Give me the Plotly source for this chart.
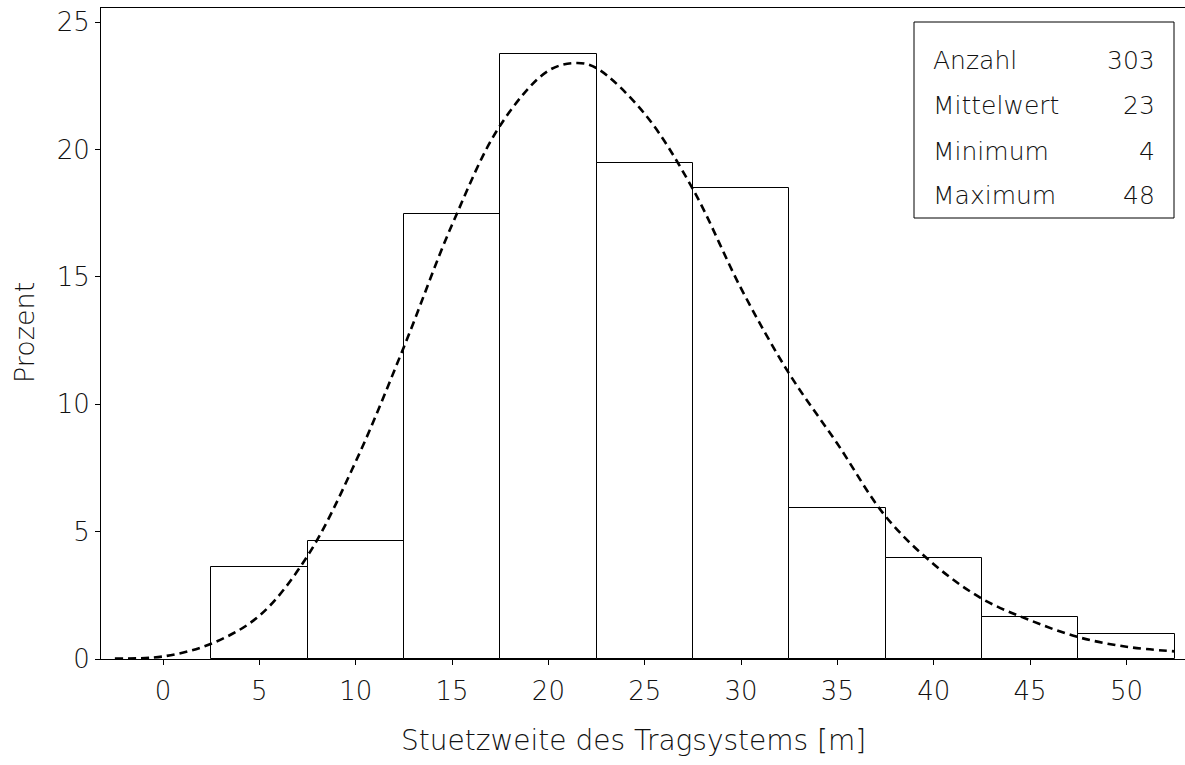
import plotly.graph_objects as go

# Histogram: class midpoints [m] and share of the 303 systems in each class [%]
bin_centers = [5, 10, 15, 20, 25, 30, 35, 40, 45, 50]
percent = [3.63, 4.62, 17.49, 23.76, 19.47, 18.48, 5.94, 3.96, 1.65, 0.99]
bin_width = 5

# Fitted density curve, as percent per class
curve_x = [-2.5, 0, 2.5, 5, 7.5, 10, 12.5, 15, 17.5, 20, 21.5, 22.5, 25,
           27.5, 30, 32.5, 35, 37.5, 40, 42.5, 45, 47.5, 50, 52.5]
curve_y = [0.02, 0.1, 0.6, 1.7, 4.05, 7.75, 12.25, 17.05, 20.95, 23.1, 23.4,
           23.2, 21.4, 18.45, 14.55, 11.2, 8.45, 5.6, 3.72, 2.37, 1.52, 0.86,
           0.48, 0.3]

x_ticks = [0, 5, 10, 15, 20, 25, 30, 35, 40, 45, 50]
y_ticks = [0, 5, 10, 15, 20, 25]

stat_labels = ["Anzahl", "Mittelwert", "Minimum", "Maximum"]
stat_values = ["303", "23", "4", "48"]

W, H = 1185, 765
ML, MR, MT, MB = 101, 0, 8, 106
PW, PH = W - ML - MR, H - MT - MB

FONT = "DejaVu Sans, sans-serif"
INK = "#111111"
WEIGHT = 200


def px(x):
    return (x - ML) / PW


def py(y):
    return 1 - (y - MT) / PH


fig = go.Figure()

fig.add_trace(go.Bar(
    x=bin_centers, y=percent, width=bin_width,
    marker=dict(color="white", line=dict(color="black", width=1)),
    hoverinfo="x+y", showlegend=False,
))

fig.add_trace(go.Scatter(
    x=curve_x, y=curve_y, mode="lines",
    line=dict(color="black", width=2.6, dash="8px,5px", shape="spline", smoothing=1.0),
    showlegend=False,
))

axis_font = dict(family=FONT, size=26, color=INK, weight=WEIGHT)

fig.update_xaxes(
    range=[-3.22, 53.04], tickvals=x_ticks, ticks="outside", ticklen=5,
    tickcolor="black", tickwidth=1, showline=True, linecolor="black",
    linewidth=1, mirror=True, showgrid=False, zeroline=False,
    tickfont=axis_font, ticklabelstandoff=4,
)
fig.update_yaxes(
    range=[0, 25.56], tickvals=y_ticks, ticks="outside", ticklen=5,
    tickcolor="black", tickwidth=1, showline=True, linecolor="black",
    linewidth=1, mirror=False, showgrid=False, zeroline=False,
    tickfont=axis_font, ticklabelstandoff=0,
)

annotations = [
    dict(text="Stuetzweite des Tragsystems [m]", x=px(633), y=py(740),
         xanchor="center", yanchor="middle", showarrow=False,
         font=dict(family=FONT, size=28, color=INK, weight=WEIGHT)),
    dict(text="Prozent", x=px(24), y=py(333), textangle=-90,
         xanchor="center", yanchor="middle", showarrow=False,
         font=dict(family=FONT, size=27, color=INK, weight=WEIGHT)),
]

row_y = [60, 106, 151, 196]
for lab, val, yy in zip(stat_labels, stat_values, row_y):
    annotations.append(dict(text=lab, x=px(931), y=py(yy), xanchor="left",
                            yanchor="middle", showarrow=False,
                            font=dict(family=FONT, size=25, color=INK, weight=WEIGHT)))
    annotations.append(dict(text=val, x=px(1157), y=py(yy), xanchor="right",
                            yanchor="middle", showarrow=False,
                            font=dict(family=FONT, size=25, color=INK, weight=WEIGHT)))

for a in annotations:
    a.setdefault("xref", "paper")
    a.setdefault("yref", "paper")

fig.update_layout(
    width=W, height=H,
    margin=dict(l=ML, r=MR, t=MT, b=MB),
    paper_bgcolor="white", plot_bgcolor="white",
    bargap=0, annotations=annotations,
    shapes=[dict(type="rect", xref="paper", yref="paper",
                 x0=px(914), x1=px(1174), y0=py(218), y1=py(22),
                 line=dict(color="black", width=1), fillcolor="rgba(0,0,0,0)")],
)

fig.write_html("out.html")
